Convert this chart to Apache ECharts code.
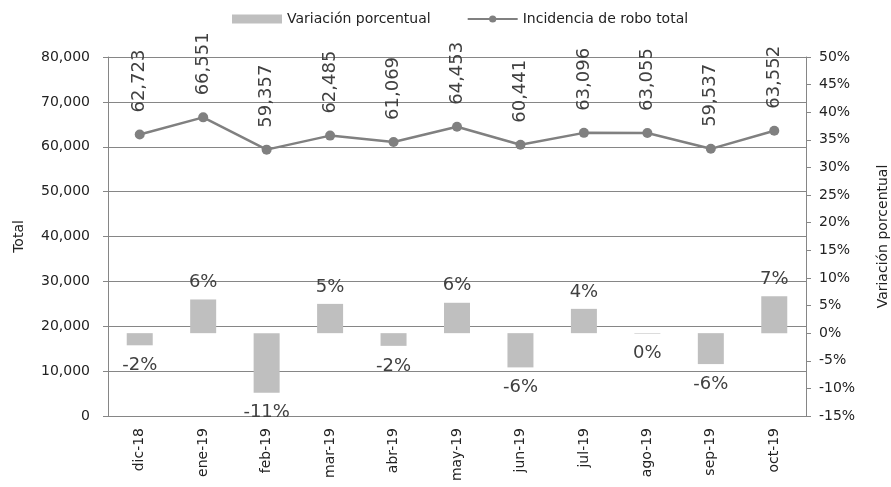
<!DOCTYPE html>
<html>
<head>
<meta charset="utf-8">
<script src="https://cdn.jsdelivr.net/npm/echarts@6/dist/echarts.min.js"></script>
<style>
  html, body { margin: 0; padding: 0; background: #fff; }
  #chart { width: 891px; height: 487px; }
</style>
</head>
<body>
<div id="chart"></div>
<script>
  // meses
  const months = ['dic-18', 'ene-19', 'feb-19', 'mar-19', 'abr-19', 'may-19', 'jun-19', 'jul-19', 'ago-19', 'sep-19', 'oct-19']
  // incidencia de robo total
  const totals = [62723, 66551, 59357, 62485, 61069, 64453, 60441, 63096, 63055, 59537, 63552]
  // variacion porcentual (%)
  const variation = [-2.2, 6.1, -10.8, 5.3, -2.3, 5.5, -6.2, 4.4, -0.1, -5.6, 6.7]

  const textColor = '#404040'
  const axisColor = '#868686'
  const font = 'DejaVu Sans'

  // etiquetas arriba / abajo segun el signo
  const barData = variation.map(v => ({
    value: v,
    label: { position: v < 0 ? 'bottom' : 'top', distance: v < 0 ? 11 : 8 }
  }))

  let myChart = echarts.init(document.getElementById('chart'))
  myChart.setOption({
    animation: false,
    textStyle: { fontFamily: font },
    legend: {
      top: 7,
      left: 227,
      itemWidth: 50,
      itemHeight: 9,
      itemGap: 36,
      textStyle: { fontFamily: font, fontSize: 14, color: '#222' },
      data: [
        { name: 'Variación porcentual', icon: 'rect' },
        { name: 'Incidencia de robo total' }
      ]
    },
    grid: { left: 108, right: 85, top: 57, bottom: 71, containLabel: false, outerBoundsMode: 'none' },
    xAxis: {
      type: 'category',
      data: months,
      axisLine: { lineStyle: { color: axisColor } },
      axisTick: { length: 6, lineStyle: { color: axisColor } },
      axisLabel: { rotate: 90, fontSize: 14, color: '#222', fontFamily: font, margin: 12 }
    },
    yAxis: [
      {
        type: 'value',
        min: 0,
        max: 80000,
        interval: 10000,
        name: 'Total',
        nameLocation: 'middle',
        nameGap: 82,
        nameTextStyle: { fontSize: 14, color: '#222', fontFamily: font },
        axisLine: { show: true, lineStyle: { color: axisColor } },
        axisTick: { show: true, length: 5, lineStyle: { color: axisColor } },
        splitLine: { lineStyle: { color: axisColor } },
        axisLabel: {
          fontSize: 14, color: '#222', fontFamily: font, margin: 18,
          formatter: v => v.toLocaleString('en-US')
        }
      },
      {
        type: 'value',
        min: -15,
        max: 50,
        interval: 5,
        name: 'Variación porcentual',
        nameLocation: 'middle',
        nameGap: 70,
        nameRotate: 90,
        nameTextStyle: { fontSize: 14, color: '#222', fontFamily: font },
        axisLine: { show: true, lineStyle: { color: axisColor } },
        axisTick: { show: true, length: 5, lineStyle: { color: axisColor } },
        splitLine: { show: false },
        axisLabel: { fontSize: 14, color: '#222', fontFamily: font, margin: 13, formatter: '{value}%' }
      }
    ],
    series: [
      {
        name: 'Variación porcentual',
        type: 'bar',
        yAxisIndex: 1,
        barWidth: 26,
        itemStyle: { color: '#BFBFBF' },
        label: {
          show: true,
          fontSize: 18,
          color: textColor,
          fontFamily: font,
          formatter: p => Math.round(p.value) + '%'
        },
        data: barData,
        z: 1
      },
      {
        name: 'Incidencia de robo total',
        type: 'line',
        yAxisIndex: 0,
        symbol: 'circle',
        symbolSize: 10,
        lineStyle: { color: '#808080', width: 2.5 },
        itemStyle: { color: '#808080' },
        label: {
          show: true,
          position: 'top',
          distance: 17,
          rotate: 90,
          align: 'left',
          verticalAlign: 'middle',
          fontSize: 18,
          color: textColor,
          fontFamily: font,
          formatter: p => p.value.toLocaleString('en-US')
        },
        data: totals,
        z: 3
      }
    ]
  })
</script>
</body>
</html>
